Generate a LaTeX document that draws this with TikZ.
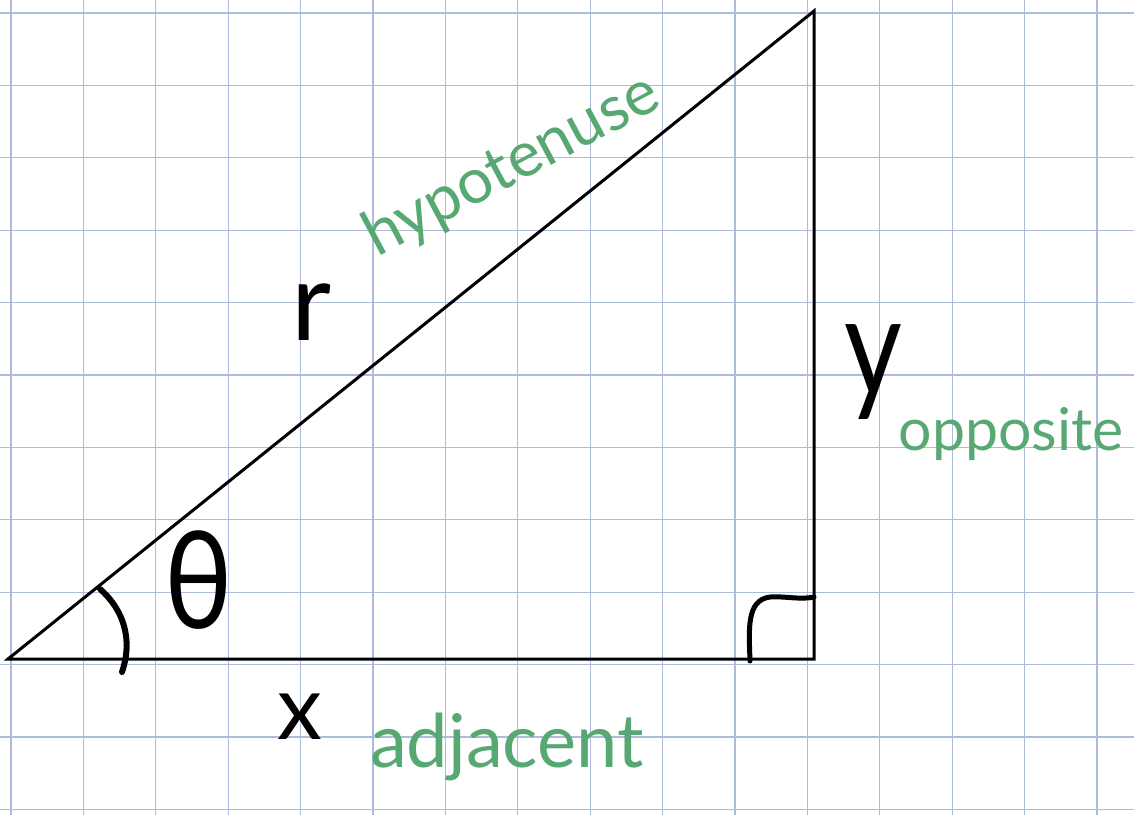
\documentclass[tikz,border=0pt]{standalone}
\usepackage{fontspec}
\setmainfont{Lato}
\definecolor{gridblue}{RGB}{172,188,218}
\definecolor{labelgreen}{RGB}{87,168,115}
\begin{document}
\begin{tikzpicture}[x=1pt,y=-1pt,
  gridline/.style={draw=gridblue,line width=1.1pt},
  side/.style={draw=black,line width=3pt,line join=miter},
  pen/.style={draw=black,line width=6pt,line cap=round,line join=round},
  greenlabel/.style={text=labelgreen,inner sep=0pt},
  blacklabel/.style={text=black,inner sep=0pt}]
\path[use as bounding box, fill=white] (0,0) rectangle (1134,815);
\foreach \i in {0,...,15} \draw[gridline] ({11+72.4*\i},0) -- ({11+72.4*\i},815);
\foreach \j in {0,...,11} \draw[gridline] (0,{13+72.4*\j}) -- (1134,{13+72.4*\j});
% triangle
\coordinate (A) at (8,659);
\coordinate (B) at (814,659);
\coordinate (C) at (814,11);
\draw[side] (A) -- (B) -- (C) -- cycle;
% right-angle mark
\coordinate (RA1) at (750,661);
\coordinate (RA2) at (814,597);
\draw[pen,line width=5pt] (RA1) .. controls (749,630) and (746,600) .. (770,597) .. controls (786,596) and (800,600) .. (RA2);
% angle arc
\coordinate (AR1) at (100,589);
\coordinate (AR2) at (122,672);
\draw[pen] (AR1) .. controls (124,610) and (133,640) .. (AR2);
% black labels
\node[blacklabel, font=\fontsize{110}{110}\selectfont] (r) at (312,312) {r};
\node[blacklabel, font=\fontsize{90}{90}\selectfont] (x) at (300,717) {x};
\node[blacklabel, xscale=0.8, font=\fontsize{140}{140}\selectfont] (y) at (873,372) {y};
\node[blacklabel, xscale=0.85, font=\fontsize{135}{135}\selectfont] (theta) at (199,580) {θ};
% green labels
\node[greenlabel, rotate=28, font=\fontsize{63}{63}\selectfont] (hyp) at (512,166) {hypotenuse};
\node[greenlabel, anchor=base, font=\fontsize{59}{59}\selectfont] (opp) at (1011,450) {opposite};
\node[greenlabel, anchor=base, font=\fontsize{74}{74}\selectfont] (adj) at (507,767) {adjacent};
\end{tikzpicture}
\end{document}
